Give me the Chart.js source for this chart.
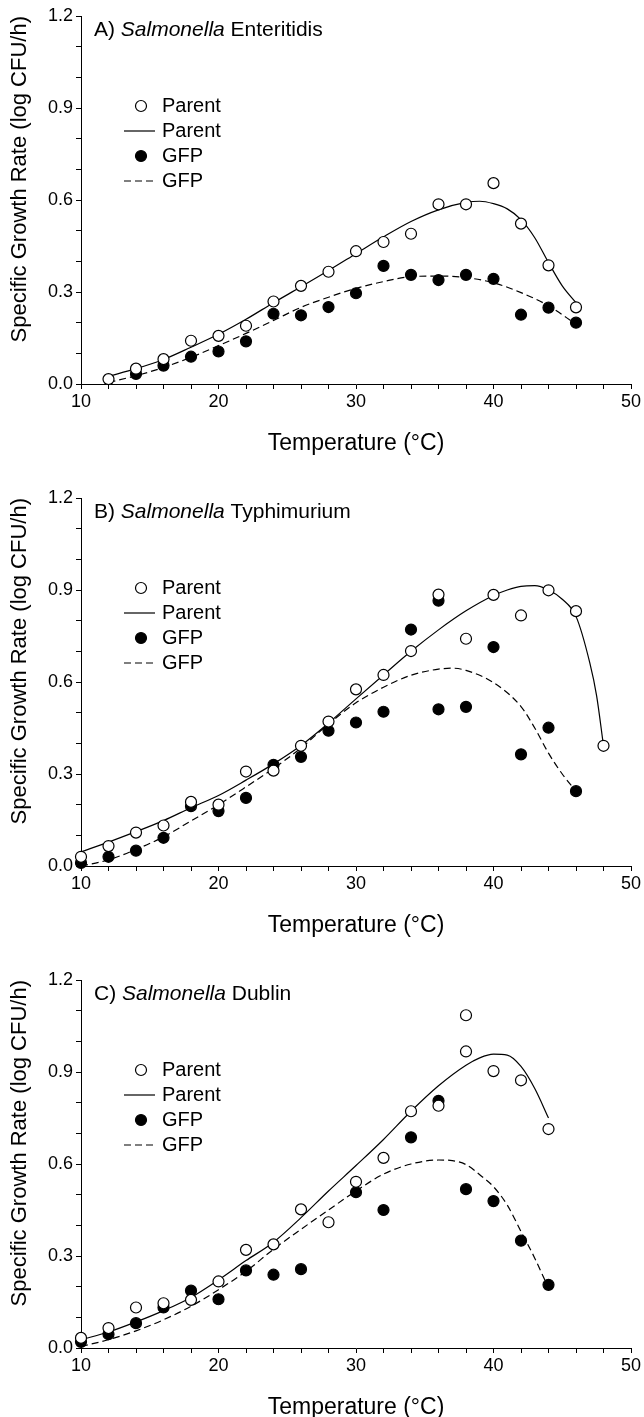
<!DOCTYPE html>
<html>
<head>
<meta charset="utf-8">
<script src="https://cdn.jsdelivr.net/npm/chart.js@4.4.0/dist/chart.umd.min.js"></script>
<style>
  html, body { margin: 0; padding: 0; background: #fff; overflow: hidden; }
  canvas { display: block; }
</style>
</head>
<body>
<canvas id="chartA" width="644" height="482"></canvas>
<canvas id="chartB" width="644" height="482"></canvas>
<canvas id="chartC" width="644" height="482"></canvas>
<script>
// A) Salmonella Enteritidis
var aTemp      = [12, 14, 16, 18, 20, 22, 24, 26, 28, 30, 32, 34, 36, 38, 40, 42, 44, 46];
var aParent    = [0.016, 0.05, 0.081, 0.141, 0.157, 0.19, 0.269, 0.32, 0.366, 0.433, 0.463, 0.49, 0.586, 0.586, 0.655, 0.523, 0.387, 0.25];
var aGfpTemp   = [14, 16, 18, 20, 22, 24, 26, 28, 30, 32, 34, 36, 38, 40, 42, 44, 46];
var aGfp       = [0.033, 0.06, 0.089, 0.106, 0.139, 0.229, 0.224, 0.251, 0.296, 0.385, 0.356, 0.339, 0.356, 0.343, 0.226, 0.249, 0.2];
var aFitPTemp  = [12, 14, 16, 18, 20, 22, 24, 26, 28, 30, 32, 34, 36, 38, 39, 40, 41, 42, 43, 44, 45, 46];
var aFitParent = [0.025, 0.05, 0.08, 0.12, 0.162, 0.211, 0.265, 0.317, 0.37, 0.425, 0.48, 0.53, 0.568, 0.592, 0.596, 0.588, 0.571, 0.536, 0.477, 0.396, 0.32, 0.265];
var aFitGTemp  = [12, 14, 16, 18, 20, 22, 24, 26, 28, 30, 32, 34, 36, 38, 40, 42, 44, 46];
var aFitGfp    = [0.005, 0.027, 0.054, 0.087, 0.125, 0.165, 0.207, 0.25, 0.283, 0.312, 0.334, 0.35, 0.352, 0.347, 0.33, 0.298, 0.255, 0.195];

// B) Salmonella Typhimurium
var bTemp      = [10, 12, 14, 16, 18, 20, 22, 24, 26, 28, 30, 32, 34, 36, 38, 40, 42, 44, 46, 48];
var bParent    = [0.03, 0.065, 0.109, 0.132, 0.209, 0.2, 0.308, 0.311, 0.392, 0.471, 0.576, 0.623, 0.701, 0.885, 0.741, 0.884, 0.817, 0.899, 0.831, 0.392];
var bGfpTemp   = [10, 12, 14, 16, 18, 20, 22, 24, 26, 28, 30, 32, 34, 36, 36, 38, 40, 42, 44, 46];
var bGfp       = [0.01, 0.03, 0.05, 0.092, 0.195, 0.179, 0.222, 0.33, 0.356, 0.441, 0.468, 0.503, 0.771, 0.865, 0.511, 0.519, 0.714, 0.364, 0.451, 0.244];
var bFitPTemp  = [10, 12, 14, 16, 18, 20, 22, 24, 26, 28, 30, 32, 34, 36, 38, 40, 41, 42, 43, 44, 45, 46, 47, 47.5, 48];
var bFitParent = [0.046, 0.078, 0.112, 0.148, 0.19, 0.23, 0.28, 0.333, 0.393, 0.466, 0.545, 0.623, 0.7, 0.77, 0.832, 0.882, 0.9, 0.912, 0.914, 0.9, 0.87, 0.814, 0.663, 0.555, 0.392];
var bFitGTemp  = [10, 12, 14, 16, 18, 20, 22, 24, 26, 28, 30, 32, 34, 36, 37, 38, 40, 42, 43, 44, 45, 46];
var bFitGfp    = [0.0, 0.02, 0.054, 0.095, 0.147, 0.2, 0.258, 0.318, 0.385, 0.463, 0.532, 0.583, 0.622, 0.642, 0.645, 0.638, 0.598, 0.52, 0.45, 0.368, 0.3, 0.244];

// C) Salmonella Dublin
var cTemp      = [10, 12, 14, 16, 18, 20, 22, 24, 26, 28, 30, 32, 34, 36, 38, 38, 40, 42, 44];
var cParent    = [0.033, 0.065, 0.132, 0.146, 0.157, 0.217, 0.32, 0.338, 0.452, 0.41, 0.542, 0.62, 0.772, 0.79, 1.085, 0.967, 0.903, 0.873, 0.714];
var cGfpTemp   = [10, 12, 14, 16, 18, 20, 22, 24, 26, 30, 32, 34, 36, 38, 40, 42, 44];
var cGfp       = [0.02, 0.045, 0.081, 0.132, 0.187, 0.159, 0.253, 0.239, 0.257, 0.508, 0.45, 0.687, 0.806, 0.518, 0.479, 0.35, 0.206];
var cFitPTemp  = [10, 12, 14, 16, 18, 20, 22, 24, 26, 28, 30, 32, 34, 36, 38, 39, 40, 41, 42, 43, 44];
var cFitParent = [0.027, 0.052, 0.085, 0.122, 0.165, 0.222, 0.285, 0.345, 0.425, 0.512, 0.595, 0.68, 0.772, 0.855, 0.922, 0.946, 0.958, 0.955, 0.918, 0.846, 0.75];
var cFitGTemp  = [10, 12, 14, 16, 18, 20, 22, 24, 26, 28, 30, 32, 34, 36, 37, 38, 39, 40, 41, 42, 43, 44];
var cFitGfp    = [0.005, 0.027, 0.056, 0.092, 0.136, 0.19, 0.25, 0.322, 0.387, 0.45, 0.512, 0.567, 0.6, 0.613, 0.611, 0.598, 0.565, 0.526, 0.466, 0.38, 0.293, 0.195];

var yTickLabels = ['0.0', '0.3', '0.6', '0.9', '1.2'];
var xTickLabels = [10, 20, 30, 40, 50];

Chart.defaults.font.family = '"Liberation Sans", Arial, Helvetica, sans-serif';
Chart.defaults.color = '#000';

function toPoints(xs, ys) {
    return xs.map(function (x, i) { return { x: x, y: ys[i] }; });
}

// panel title and the legend inside the plot
const panelText = {
    id: 'panelText',
    afterDraw(chart, args, opts) {
        const ctx = chart.ctx;
        const area = chart.chartArea;
        const family = Chart.defaults.font.family;
        ctx.save();
        ctx.fillStyle = '#000';
        ctx.strokeStyle = '#000';
        ctx.textBaseline = 'middle';

        let x = area.left + 13;
        const y = area.top + 14;
        ctx.font = '21px ' + family;
        ctx.fillText(opts.letter + ') ', x, y);
        x += ctx.measureText(opts.letter + ') ').width;
        ctx.font = 'italic 21px ' + family;
        ctx.fillText('Salmonella', x, y);
        x += ctx.measureText('Salmonella').width;
        ctx.font = '21px ' + family;
        ctx.fillText(' ' + opts.strain, x, y);

        ctx.font = '20px ' + family;
        chart.data.datasets.forEach(function (ds, i) {
            const ly = area.top + 90 + i * 25;
            if (ds.showLine) {
                ctx.lineWidth = ds.borderWidth;
                ctx.setLineDash(ds.borderDash || []);
                ctx.beginPath();
                ctx.moveTo(area.left + 43, ly);
                ctx.lineTo(area.left + 74, ly);
                ctx.stroke();
                ctx.setLineDash([]);
            } else {
                ctx.lineWidth = ds.pointBorderWidth;
                ctx.beginPath();
                ctx.arc(area.left + 60, ly, ds.pointRadius, 0, Math.PI * 2);
                ctx.fillStyle = ds.pointBackgroundColor;
                ctx.fill();
                ctx.stroke();
                ctx.fillStyle = '#000';
            }
            ctx.fillText(ds.label, area.left + 81, ly);
        });
        ctx.restore();
    }
};

function chartPanel(id, letter, strain, pT, pR, gT, gR, fpT, fpR, fgT, fgR) {

    const data = {
    datasets: [{
        label: 'Parent',
        data: toPoints(pT, pR),
        showLine: false,
        pointRadius: 5.5,
        pointBorderWidth: 1.2,
        pointBackgroundColor: '#fff',
        pointBorderColor: '#000',
        clip: false,
        order: 0
    },{
        label: 'Parent',
        data: toPoints(fpT, fpR),
        showLine: true,
        pointRadius: 0,
        borderColor: '#000',
        borderWidth: 1.2,
        cubicInterpolationMode: 'monotone',
        clip: false,
        order: 2
    },{
        label: 'GFP',
        data: toPoints(gT, gR),
        showLine: false,
        pointRadius: 5.5,
        pointBorderWidth: 1.2,
        pointBackgroundColor: '#000',
        pointBorderColor: '#000',
        clip: false,
        order: 1
    },{
        label: 'GFP',
        data: toPoints(fgT, fgR),
        showLine: true,
        pointRadius: 0,
        borderColor: '#000',
        borderWidth: 1.2,
        borderDash: [7, 4],
        cubicInterpolationMode: 'monotone',
        clip: false,
        order: 3
    }]
    };

    const config = {
    type: 'scatter',
    data: data,
    options: {
        responsive: false,
        animation: false,
        layout: { padding: { top: 16, right: 13, bottom: 25, left: 0 } },
        plugins: {
            legend: { display: false },
            tooltip: { enabled: false },
            panelText: { letter: letter, strain: strain }
        },
        scales: {
            x: {
                type: 'linear',
                min: 10,
                max: 50,
                border: { color: '#000', width: 1 },
                grid: { drawOnChartArea: false, tickLength: 5, color: '#000' },
                ticks: {
                    stepSize: 2,
                    autoSkip: false,
                    maxRotation: 0,
                    padding: 2,
                    font: { size: 18 },
                    callback: function (v) { return xTickLabels.indexOf(v) >= 0 ? String(v) : ''; }
                },
                title: { display: true, text: 'Temperature (°C)', font: { size: 23 }, padding: 0 },
                afterFit: function (s) { s.height = 73; }
            },
            y: {
                min: 0,
                max: 1.2,
                border: { color: '#000', width: 1 },
                grid: { drawOnChartArea: false, tickLength: 5, color: '#000' },
                ticks: {
                    stepSize: 0.1,
                    autoSkip: false,
                    padding: 3,
                    font: { size: 18 },
                    callback: function (v) {
                        const lbl = v.toFixed(1);
                        return yTickLabels.indexOf(lbl) >= 0 ? lbl : '';
                    }
                },
                title: {
                    display: true,
                    text: 'Specific Growth Rate (log CFU/h)',
                    font: { size: 22 },
                    align: 'end',
                    padding: { top: 7, bottom: 0 }
                },
                afterFit: function (s) { s.width = 81; }
            }
        }
    },
    plugins: [panelText]
    };

    const myChart = new Chart(
    document.getElementById(id),
    config
    );
}

chartPanel('chartA', 'A', 'Enteritidis', aTemp, aParent, aGfpTemp, aGfp, aFitPTemp, aFitParent, aFitGTemp, aFitGfp);
chartPanel('chartB', 'B', 'Typhimurium', bTemp, bParent, bGfpTemp, bGfp, bFitPTemp, bFitParent, bFitGTemp, bFitGfp);
chartPanel('chartC', 'C', 'Dublin', cTemp, cParent, cGfpTemp, cGfp, cFitPTemp, cFitParent, cFitGTemp, cFitGfp);
</script>
</body>
</html>
